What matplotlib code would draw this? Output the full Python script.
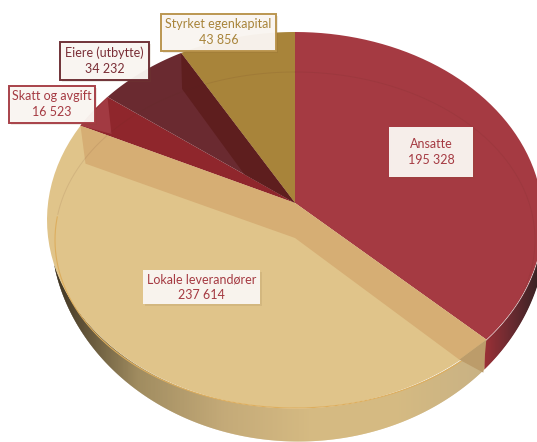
import numpy as np
import matplotlib
matplotlib.use("Agg")
import matplotlib.pyplot as plt
from matplotlib.colors import LinearSegmentedColormap
from matplotlib.patches import Polygon, Rectangle

labels = ["Ansatte", "Lokale leverandører", "Skatt og avgift", "Eiere (utbytte)", "Styrket egenkapital"]
values = [195328, 237614, 16523, 34232, 43856]
value_labels = ["195 328", "237 614", "16 523", "34 232", "43 856"]
colors = ["#A53A42", "#E0C48A", "#8F262C", "#6A2A30", "#A8843A"]
text_colors = ["#A53A42", "#A53A42", "#A53A42", "#7A2E36", "#A8843A"]
edge_colors = [None, None, "#A53A42", "#6A2A30", "#B8924A"]
# box left, top, right, bottom in pixels
boxes = [(389, 127, 473, 177), (143, 270, 260, 304), (9, 86, 95, 123), (60, 42, 149, 80), (161, 14, 276, 51)]

apex = np.array([295.0, 203.0])
cx, cy, rx, ry = 295.0, 220.0, 248.0, 188.0
low_cx, low_cy, low_rx, low_ry = 298.0, 228.0, 248.0, 213.0
ring_cy, ring_rx, ring_ry = 240.0, 240.0, 168.0


def rim_point(deg):
    # ray from the off-centre apex out to the top ellipse
    a = np.radians(deg)
    d = np.array([np.sin(a) * rx, -np.cos(a) * ry])
    p = apex - np.array([cx, cy])
    qa = (d[0] / rx) ** 2 + (d[1] / ry) ** 2
    qb = 2 * (p[0] * d[0] / rx ** 2 + p[1] * d[1] / ry ** 2)
    qc = (p[0] / rx) ** 2 + (p[1] / ry) ** 2 - 1
    s = (-qb + np.sqrt(qb ** 2 - 4 * qa * qc)) / (2 * qa)
    return apex + s * d


fig = plt.figure(figsize=(5.37, 4.42), dpi=100)
ax = fig.add_axes([0, 0, 1, 1])
ax.set_xlim(0, 537)
ax.set_ylim(442, 0)
ax.axis("off")

edges = np.cumsum([0] + values) / sum(values) * 360
rim = [rim_point(e) for e in edges]

# side of the disc, colour strips across x
tan_map = LinearSegmentedColormap.from_list("tan", ["#3A3020", "#A08C60", "#C4AA78", "#D5BA82", "#D5BA82", "#C8B183"])
red_map = LinearSegmentedColormap.from_list("red", ["#9C3036", "#6A2A30", "#3A2224"])
split_x = rim[1][0] - 3
xs = np.arange(50, 537, 1.0)
for x in xs:
    x2 = np.array([x, x + 1.5])
    top = cy + ry * np.sqrt(np.clip(1 - ((x2 - cx) / rx) ** 2, 0, 1))
    bot = low_cy + low_ry * np.sqrt(np.clip(1 - ((x2 - low_cx) / low_rx) ** 2, 0, 1))
    if x < split_x:
        c = tan_map((x - 50) / (split_x - 50))
    else:
        c = red_map((x - split_x) / (537 - split_x))
    ax.fill_between(x2, top, bot, color=c, lw=0, where=bot > top, zorder=1)

# top face slices
for i in range(len(values)):
    angs = np.linspace(edges[i], edges[i + 1], 60)
    pts = [apex] + [rim_point(a) for a in angs]
    ax.add_patch(Polygon(pts, closed=True, fc=colors[i], ec="none", zorder=2))

# bevel of the big slice
r_ans, r_lok, r_ska, r_eie = rim[1], rim[2], rim[3], rim[4]
ax.add_patch(Polygon([apex, r_lok, r_lok + [5, 38], apex + [0, 35], r_ans + [-27, 20], r_ans],
                     closed=True, fc="#D6AE74", ec="none", zorder=3))
ax.add_patch(Polygon([r_ans, r_ans + [-3, 33], r_ans + [-27, 20]], closed=True, fc="#BC9C6A", ec="none", zorder=3))

# bevel of the small slices
ax.add_patch(Polygon([r_lok, r_ska, r_ska + [4, 37]], closed=True, fc="#A23A42", ec="none", zorder=3))
ax.add_patch(Polygon([apex, r_eie, r_eie + [1, 36], apex + 0.27 * (r_ska - apex)],
                     closed=True, fc="#5E1E1E", ec="none", zorder=3))

# inner ring
t = np.linspace(0, 2 * np.pi, 400)
ring_x = cx + ring_rx * np.sin(t)
ring_y = ring_cy - ring_ry * np.cos(t)
upper = (ring_y <= 215) | (ring_x >= r_ans[0])
ax.plot(np.where(upper, ring_x, np.nan), ring_y, color="#5A2A20", lw=0.7, alpha=0.1, zorder=4)
lower = (ring_y > 215) & (ring_x < r_ans[0] - 24)
ax.plot(np.where(lower, ring_x, np.nan), ring_y, color="#DDAE5E", lw=0.8, zorder=4)

# labels
for i, (x0, y0, x1, y1) in enumerate(boxes):
    ax.add_patch(Rectangle((x0 + 1.5, y0 + 2), x1 - x0, y1 - y0, fc="#7A5A30", ec="none", alpha=0.12, zorder=5))
    ec = edge_colors[i] if edge_colors[i] else "none"
    ax.add_patch(Rectangle((x0, y0), x1 - x0, y1 - y0, fc="#FAF6F2", ec=ec, lw=1.4, alpha=0.96, zorder=6))
    ax.text((x0 + x1) / 2, (y0 + y1) / 2, labels[i] + "\n" + value_labels[i], ha="center", va="center",
            color=text_colors[i], fontsize=9, family="Lato", linespacing=1.4, zorder=7)

fig.savefig("out.png", dpi=100)
